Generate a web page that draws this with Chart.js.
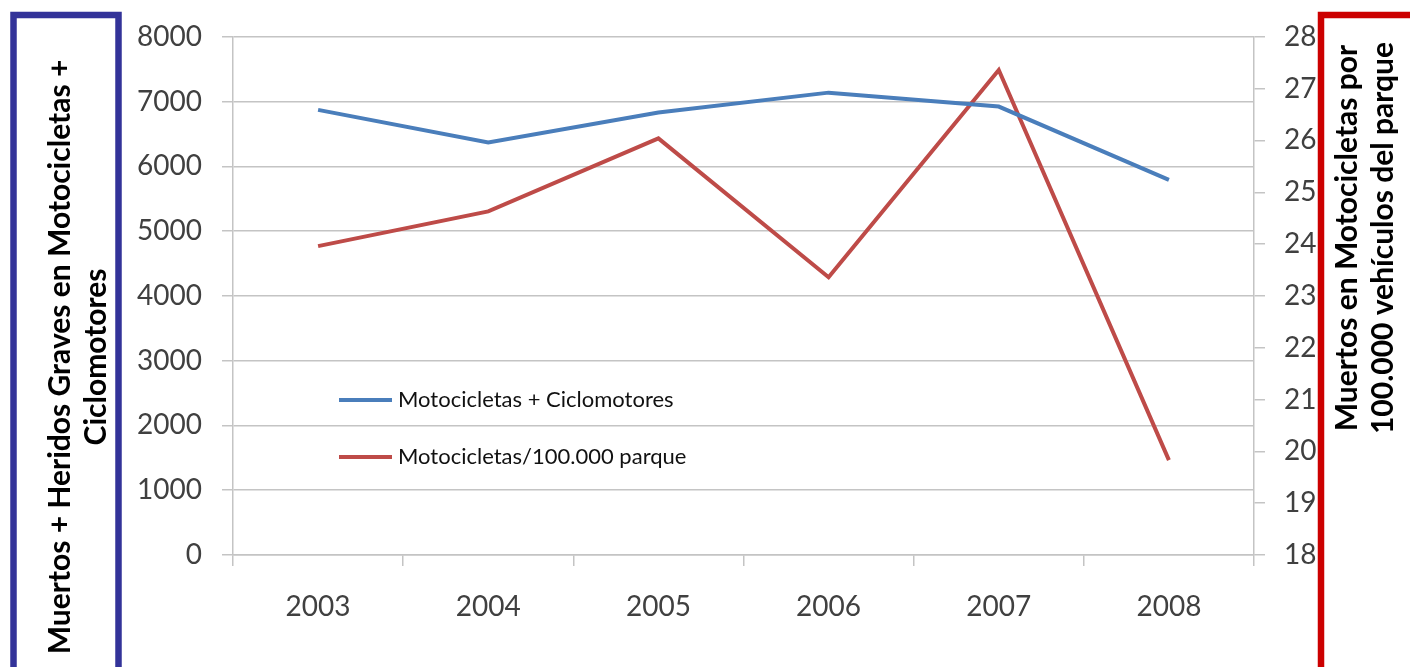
<!DOCTYPE html>
<html>
<head>
<meta charset="utf-8">
<script src="https://cdn.jsdelivr.net/npm/chart.js@4.4.1/dist/chart.umd.min.js"></script>
<style>
  html, body { margin: 0; padding: 0; background: #fff; }
  #wrap { width: 1410px; height: 667px; position: relative; }
</style>
</head>
<body>
<div id="wrap"><canvas id="chart" width="1410" height="667"></canvas></div>
<script>
const years = ["2003", "2004", "2005", "2006", "2007", "2008"];
const motoCiclo = [6872, 6369, 6831, 7138, 6923, 5791];
const motoPorParque = [23.96, 24.63, 26.04, 23.36, 27.36, 19.83];

const leftTitle = ["Muertos + Heridos Graves en Motocicletas +", "Ciclomotores"];
const rightTitle = ["Muertos en Motocicletas por", "100.000 vehículos del parque"];

const FONT = "Lato, 'Open Sans', sans-serif";
const GRID = "#c4c4c4";
const TICK_TXT = "#404040";

// framed axis titles on both sides
const frames = {
  id: "frames",
  afterDraw(chart) {
    const ctx = chart.ctx;
    ctx.save();
    ctx.lineWidth = 6.5;
    ctx.strokeStyle = "#333399";
    ctx.strokeRect(13.5, 15, 105, 720);
    ctx.strokeStyle = "#cc0000";
    ctx.strokeRect(1321, 15, 200, 720);

    ctx.fillStyle = "#000";
    ctx.font = "bold 30px " + FONT;
    ctx.textAlign = "center";
    ctx.textBaseline = "middle";
    const drawVert = (lines, xs, y) => {
      lines.forEach((t, i) => {
        ctx.save();
        ctx.translate(xs[i], y);
        ctx.rotate(-Math.PI / 2);
        ctx.fillText(t, 0, 0);
        ctx.restore();
      });
    };
    drawVert(leftTitle, [60, 96], 357);
    drawVert(rightTitle, [1347, 1383], 238);
    ctx.restore();
  }
};

// legend sitting inside the plot area
const innerLegend = {
  id: "innerLegend",
  afterDatasetsDraw(chart) {
    const ctx = chart.ctx;
    ctx.save();
    ctx.font = "22px " + FONT;
    ctx.textBaseline = "middle";
    ctx.textAlign = "left";
    chart.data.datasets.forEach((ds, i) => {
      const y = 400 + i * 57;
      ctx.strokeStyle = ds.borderColor;
      ctx.lineWidth = 4;
      ctx.beginPath();
      ctx.moveTo(339, y);
      ctx.lineTo(392, y);
      ctx.stroke();
      ctx.fillStyle = "#111";
      ctx.fillText(ds.label, 398, y);
    });
    ctx.restore();
  }
};

new Chart(document.getElementById("chart"), {
  type: "line",
  data: {
    labels: years,
    datasets: [
      {
        label: "Motocicletas + Ciclomotores",
        data: motoCiclo,
        yAxisID: "y",
        borderColor: "#4a7ebb",
        borderWidth: 4,
        pointRadius: 0,
        tension: 0
      },
      {
        label: "Motocicletas/100.000 parque",
        data: motoPorParque,
        yAxisID: "y1",
        borderColor: "#be4b48",
        borderWidth: 4,
        pointRadius: 0,
        tension: 0
      }
    ]
  },
  options: {
    responsive: false,
    animation: false,
    devicePixelRatio: 1,
    layout: { padding: { left: 120, right: 92, top: 36, bottom: 32 } },
    plugins: {
      legend: { display: false },
      tooltip: { enabled: false }
    },
    scales: {
      x: {
        offset: true,
        grid: { offset: true, drawOnChartArea: false, tickLength: 11, color: GRID, lineWidth: 1.5 },
        border: { color: GRID, width: 1.5 },
        ticks: { font: { family: FONT, size: 28 }, color: TICK_TXT, padding: 24, maxRotation: 0 },
        afterFit(scale) { scale.height = 80; }
      },
      y: {
        position: "left",
        min: 0,
        max: 8000,
        ticks: {
          stepSize: 1000,
          font: { family: FONT, size: 28 },
          color: TICK_TXT,
          padding: 20,
          callback: (v) => String(v)
        },
        grid: { color: GRID, lineWidth: 1.5, tickLength: 11 },
        border: { color: GRID, width: 1.5 },
        afterFit(scale) { scale.width = 113; }
      },
      y1: {
        position: "right",
        min: 18,
        max: 28,
        ticks: { stepSize: 1, font: { family: FONT, size: 28 }, color: TICK_TXT, padding: 19 },
        grid: { drawOnChartArea: false, color: GRID, lineWidth: 1.5, tickLength: 11 },
        border: { color: GRID, width: 1.5 },
        afterFit(scale) { scale.width = 64; }
      }
    }
  },
  plugins: [frames, innerLegend]
});
</script>
</body>
</html>
